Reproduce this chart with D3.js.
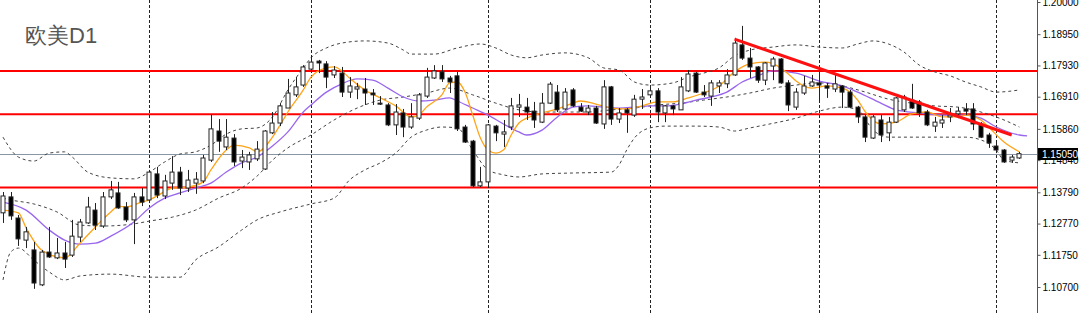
<!DOCTYPE html>
<html lang="zh">

<head>
    <meta charset="UTF-8">
    <script src="https://d3js.org/d3.v7.min.js"></script>
    <style>
        body {
            margin: 0;
            background: #fff;
        }

        svg text {
            font-family: "Liberation Sans", Arial, sans-serif;
        }

        .axis text {
            font-size: 10px;
            fill: #000;
        }

        .axis path,
        .axis line {
            stroke: #555;
        }
    </style>
    <title>欧美D1</title>
</head>

<body>
    <svg width="1080" height="313"></svg>
    <script>
        // daily candles
        const open = [1.1312, 1.1364, 1.1295, 1.1223, 1.1191, 1.1077, 1.1184, 1.1165, 1.1181, 1.1174,
            1.1233, 1.1279, 1.1321, 1.1269, 1.1364, 1.1377, 1.1331, 1.1289, 1.1364, 1.1354,
            1.1439, 1.1367, 1.1409, 1.1445, 1.1393, 1.1409, 1.1416, 1.1484, 1.1579, 1.1527,
            1.1556, 1.1481, 1.1478, 1.1488, 1.1455, 1.1573, 1.1605, 1.1654, 1.1697, 1.1729,
            1.1781, 1.1807, 1.1798, 1.1762, 1.1768, 1.1706, 1.1716, 1.1716, 1.1703, 1.1670,
            1.1664, 1.1599, 1.1638, 1.1592, 1.1621, 1.1693, 1.1752, 1.1772, 1.1752, 1.1759,
            1.1592, 1.1546, 1.1400, 1.1413, 1.1595, 1.1569, 1.1592, 1.1657, 1.1657, 1.1644,
            1.1608, 1.1670, 1.1706, 1.1651, 1.1713, 1.1657, 1.1641, 1.1654, 1.1602, 1.1723,
            1.1618, 1.1648, 1.1631, 1.1683, 1.1697, 1.1710, 1.1638, 1.1661, 1.1648, 1.1710,
            1.1768, 1.1706, 1.1693, 1.1726, 1.1733, 1.1762, 1.1860, 1.1817, 1.1788, 1.1745,
            1.1791, 1.1814, 1.1736, 1.1657, 1.1703, 1.1726, 1.1736, 1.1726, 1.1716, 1.1726,
            1.1706, 1.1657, 1.1625, 1.1556, 1.1615, 1.1573, 1.1608, 1.1648, 1.1680, 1.1674,
            1.1641, 1.1595, 1.1605, 1.1625, 1.1635, 1.1651, 1.1651, 1.1602, 1.1566, 1.1530,
            1.1517, 1.1484, 1.1491];
        const high = [1.1380, 1.1380, 1.1305, 1.1266, 1.1217, 1.1191, 1.1266, 1.1230, 1.1217, 1.1289,
            1.1292, 1.1364, 1.1344, 1.1380, 1.1416, 1.1413, 1.1347, 1.1377, 1.1393, 1.1452,
            1.1462, 1.1436, 1.1497, 1.1462, 1.1452, 1.1445, 1.1501, 1.1634, 1.1618, 1.1618,
            1.1569, 1.1517, 1.1511, 1.1546, 1.1582, 1.1641, 1.1670, 1.1749, 1.1755, 1.1794,
            1.1824, 1.1811, 1.1807, 1.1791, 1.1788, 1.1755, 1.1736, 1.1752, 1.1716, 1.1693,
            1.1670, 1.1667, 1.1651, 1.1670, 1.1703, 1.1785, 1.1794, 1.1794, 1.1759, 1.1772,
            1.1599, 1.1550, 1.1462, 1.1602, 1.1599, 1.1615, 1.1687, 1.1700, 1.1687, 1.1674,
            1.1703, 1.1739, 1.1729, 1.1719, 1.1719, 1.1670, 1.1664, 1.1661, 1.1745, 1.1726,
            1.1654, 1.1654, 1.1697, 1.1716, 1.1729, 1.1719, 1.1664, 1.1664, 1.1755, 1.1778,
            1.1772, 1.1729, 1.1745, 1.1745, 1.1781, 1.1883, 1.1922, 1.1850, 1.1791, 1.1804,
            1.1821, 1.1817, 1.1745, 1.1719, 1.1759, 1.1762, 1.1785, 1.1736, 1.1762, 1.1729,
            1.1713, 1.1661, 1.1631, 1.1631, 1.1631, 1.1625, 1.1690, 1.1697, 1.1733, 1.1680,
            1.1648, 1.1625, 1.1631, 1.1654, 1.1657, 1.1670, 1.1670, 1.1608, 1.1573, 1.1540,
            1.1520, 1.1501, 1.1511];
        const low = [1.1279, 1.1289, 1.1204, 1.1197, 1.1064, 1.1073, 1.1165, 1.1161, 1.1132, 1.1168,
            1.1217, 1.1276, 1.1256, 1.1263, 1.1357, 1.1325, 1.1282, 1.1210, 1.1334, 1.1347,
            1.1360, 1.1357, 1.1387, 1.1370, 1.1380, 1.1374, 1.1409, 1.1478, 1.1511, 1.1517,
            1.1465, 1.1458, 1.1452, 1.1481, 1.1452, 1.1569, 1.1595, 1.1654, 1.1690, 1.1723,
            1.1772, 1.1768, 1.1719, 1.1752, 1.1690, 1.1687, 1.1683, 1.1664, 1.1664, 1.1664,
            1.1595, 1.1566, 1.1559, 1.1586, 1.1615, 1.1687, 1.1749, 1.1739, 1.1703, 1.1579,
            1.1540, 1.1396, 1.1396, 1.1393, 1.1546, 1.1527, 1.1582, 1.1625, 1.1615, 1.1589,
            1.1605, 1.1667, 1.1641, 1.1648, 1.1657, 1.1641, 1.1631, 1.1602, 1.1586, 1.1599,
            1.1605, 1.1573, 1.1625, 1.1651, 1.1690, 1.1608, 1.1608, 1.1631, 1.1648, 1.1706,
            1.1703, 1.1690, 1.1661, 1.1703, 1.1719, 1.1759, 1.1811, 1.1752, 1.1736, 1.1729,
            1.1745, 1.1733, 1.1644, 1.1648, 1.1697, 1.1723, 1.1680, 1.1687, 1.1706, 1.1654,
            1.1654, 1.1605, 1.1543, 1.1553, 1.1543, 1.1546, 1.1605, 1.1641, 1.1651, 1.1625,
            1.1595, 1.1576, 1.1589, 1.1608, 1.1621, 1.1631, 1.1582, 1.1556, 1.1524, 1.1507,
            1.1475, 1.1475, 1.1488];
        const close = [1.1367, 1.1302, 1.1227, 1.1250, 1.1083, 1.1184, 1.1168, 1.1181, 1.1161, 1.1236,
            1.1282, 1.1331, 1.1272, 1.1364, 1.1387, 1.1328, 1.1289, 1.1364, 1.1347, 1.1445,
            1.1370, 1.1416, 1.1445, 1.1393, 1.1419, 1.1422, 1.1491, 1.1586, 1.1546, 1.1559,
            1.1478, 1.1494, 1.1501, 1.1520, 1.1579, 1.1605, 1.1661, 1.1703, 1.1723, 1.1788,
            1.1804, 1.1801, 1.1755, 1.1778, 1.1706, 1.1726, 1.1723, 1.1703, 1.1697, 1.1667,
            1.1599, 1.1641, 1.1592, 1.1625, 1.1697, 1.1755, 1.1775, 1.1749, 1.1739, 1.1586,
            1.1543, 1.1400, 1.1413, 1.1599, 1.1573, 1.1576, 1.1661, 1.1664, 1.1641, 1.1615,
            1.1670, 1.1732, 1.1648, 1.1706, 1.1661, 1.1644, 1.1654, 1.1605, 1.1723, 1.1618,
            1.1638, 1.1638, 1.1683, 1.1690, 1.1710, 1.1641, 1.1661, 1.1651, 1.1723, 1.1765,
            1.1706, 1.1697, 1.1736, 1.1736, 1.1762, 1.1866, 1.1817, 1.1788, 1.1745, 1.1801,
            1.1814, 1.1736, 1.1664, 1.1706, 1.1726, 1.1739, 1.1729, 1.1719, 1.1733, 1.1706,
            1.1657, 1.1625, 1.1559, 1.1625, 1.1566, 1.1608, 1.1687, 1.1690, 1.1654, 1.1638,
            1.1599, 1.1608, 1.1615, 1.1631, 1.1644, 1.1644, 1.1602, 1.1559, 1.1540, 1.1517,
            1.1478, 1.1494, 1.1505];

        // indicator lines as [bar index, price] read at points along each curve
        const bbUpper = [[0, 1.1559], [2, 1.1494], [4, 1.1481], [6, 1.1507], [8, 1.1511], [9, 1.1494], [11, 1.1445],
            [14, 1.1426], [17, 1.1423], [19, 1.1445], [21, 1.1478], [23, 1.1504], [25, 1.1511], [27, 1.1533],
            [29, 1.1569], [31, 1.1586], [33, 1.1589], [35, 1.1625], [37, 1.1713], [39, 1.1785], [40, 1.1818],
            [42, 1.1850], [44, 1.1866], [47, 1.1873], [50, 1.1866], [52, 1.1843], [53, 1.1830], [56, 1.1830],
            [59, 1.1850], [62, 1.1863], [64, 1.1850], [66, 1.1827], [68, 1.1818], [70, 1.1827], [73, 1.1834],
            [76, 1.1818], [78, 1.1785], [80, 1.1778], [82, 1.1739], [84, 1.1729], [87, 1.1736], [89, 1.1755],
            [91, 1.1768], [93, 1.1785], [95, 1.1824], [97, 1.1843], [100, 1.1853], [103, 1.1860], [106, 1.1853],
            [109, 1.1850], [111, 1.1863], [113, 1.1873], [115, 1.1863], [117, 1.1837], [119, 1.1794], [121, 1.1772],
            [123, 1.1759], [125, 1.1739], [127, 1.1723], [129, 1.1706], [132, 1.1713]];
        const bbMiddle = [[0, 1.1360], [1, 1.1354], [4, 1.1341], [7, 1.1315], [10, 1.1272], [13, 1.1269], [17, 1.1276],
            [19, 1.1285], [22, 1.1298], [25, 1.1321], [28, 1.1360], [31, 1.1393], [33, 1.1432], [35, 1.1484],
            [37, 1.1524], [40, 1.1566], [43, 1.1615], [46, 1.1654], [49, 1.1680], [52, 1.1690], [55, 1.1703],
            [58, 1.1719], [61, 1.1697], [64, 1.1670], [67, 1.1648], [70, 1.1641], [73, 1.1641], [76, 1.1641],
            [79, 1.1648], [82, 1.1654], [85, 1.1664], [88, 1.1670], [91, 1.1680], [94, 1.1690], [97, 1.1703],
            [100, 1.1719], [103, 1.1729], [106, 1.1736], [109, 1.1726], [112, 1.1706], [115, 1.1683], [118, 1.1670],
            [121, 1.1661], [124, 1.1657], [127, 1.1641], [130, 1.1615], [132, 1.1592]];
        const bbLower = [[0, 1.1093], [1, 1.1184], [2, 1.1197], [4, 1.1158], [6, 1.1119], [8, 1.1093], [10, 1.1106],
            [14, 1.1112], [19, 1.1102], [23, 1.1102], [25, 1.1158], [28, 1.1201], [31, 1.1256], [33, 1.1289],
            [36, 1.1315], [40, 1.1341], [43, 1.1360], [45, 1.1419], [47, 1.1452], [49, 1.1475], [51, 1.1507],
            [53, 1.1559], [55, 1.1582], [57, 1.1592], [59, 1.1589], [61, 1.1517], [63, 1.1452], [65, 1.1436],
            [67, 1.1429], [70, 1.1439], [74, 1.1442], [79, 1.1445], [80, 1.1468], [81, 1.1517], [82, 1.1556],
            [84, 1.1589], [86, 1.1595], [90, 1.1595], [93, 1.1592], [95, 1.1579], [97, 1.1589], [99, 1.1599],
            [103, 1.1621], [106, 1.1644], [109, 1.1657], [111, 1.1648], [113, 1.1582], [115, 1.1559], [120, 1.1559],
            [125, 1.1559], [127, 1.1550], [129, 1.1517], [130, 1.1484], [132, 1.1475]];
        const maFast = [[0, 1.1321], [2, 1.1312], [3, 1.1263], [5, 1.1191], [8, 1.1165], [10, 1.1213], [12, 1.1266],
            [14, 1.1315], [15, 1.1334], [16, 1.1331], [18, 1.1347], [19, 1.1354], [20, 1.1367], [22, 1.1393],
            [24, 1.1396], [26, 1.1413], [27, 1.1452], [29, 1.1517], [30, 1.1533], [32, 1.1524], [33, 1.1511],
            [35, 1.1559], [36, 1.1599], [37, 1.1641], [39, 1.1713], [40, 1.1755], [42, 1.1785], [43, 1.1788],
            [44, 1.1775], [45, 1.1752], [47, 1.1713], [49, 1.1687], [51, 1.1661], [53, 1.1625], [54, 1.1631],
            [55, 1.1657], [57, 1.1697], [58, 1.1736], [59, 1.1739], [60, 1.1706], [61, 1.1631], [62, 1.1556],
            [63, 1.1517], [64, 1.1507], [65, 1.1517], [66, 1.1566], [67, 1.1605], [68, 1.1621], [70, 1.1638],
            [72, 1.1651], [74, 1.1670], [75, 1.1677], [77, 1.1667], [79, 1.1654], [81, 1.1651], [83, 1.1661],
            [85, 1.1674], [87, 1.1674], [89, 1.1687], [91, 1.1703], [93, 1.1726], [95, 1.1772], [97, 1.1798],
            [99, 1.1804], [101, 1.1785], [102, 1.1765], [103, 1.1742], [105, 1.1719], [107, 1.1726], [109, 1.1719],
            [111, 1.1680], [112, 1.1641], [114, 1.1602], [116, 1.1608], [118, 1.1635], [120, 1.1641], [122, 1.1625],
            [124, 1.1625], [125, 1.1631], [127, 1.1615], [128, 1.1592], [130, 1.1543], [132, 1.1511]];
        const maSlow = [[0, 1.1347], [3, 1.1321], [6, 1.1256], [8, 1.1223], [10, 1.1210], [12, 1.1213], [14, 1.1236],
            [17, 1.1282], [19, 1.1328], [21, 1.1360], [23, 1.1377], [25, 1.1393], [27, 1.1409], [29, 1.1445],
            [31, 1.1475], [33, 1.1494], [35, 1.1530], [37, 1.1576], [39, 1.1641], [40, 1.1664], [42, 1.1706],
            [44, 1.1733], [46, 1.1749], [48, 1.1745], [50, 1.1719], [52, 1.1690], [54, 1.1677], [56, 1.1680],
            [58, 1.1687], [59, 1.1677], [61, 1.1654], [63, 1.1631], [65, 1.1602], [67, 1.1576], [68, 1.1566],
            [70, 1.1582], [72, 1.1625], [74, 1.1657], [76, 1.1661], [78, 1.1657], [80, 1.1654], [82, 1.1657],
            [84, 1.1661], [86, 1.1661], [88, 1.1667], [90, 1.1680], [92, 1.1690], [94, 1.1706], [96, 1.1739],
            [98, 1.1759], [100, 1.1775], [103, 1.1768], [106, 1.1742], [109, 1.1726], [111, 1.1706], [114, 1.1670],
            [116, 1.1648], [119, 1.1638], [122, 1.1631], [125, 1.1631], [127, 1.1621], [129, 1.1592], [132, 1.1566],
            [133, 1.1563]];

        // drawn objects: support / resistance levels, the falling trend line, month separators
        const levels = [1.1775, 1.1634, 1.1395];
        const trendLine = [[95, 1.1879], [131, 1.1566]];
        const separators = [19, 40, 63, 84, 106, 129];
        const priceTicks = [1.2, 1.1895, 1.1793, 1.1691, 1.1586, 1.1484, 1.1379, 1.1277, 1.1175, 1.107];
        const lastPrice = 1.1505;
        const title = '欧美D1';

        const svg = d3.select('svg');
        const width = +svg.attr('width'), height = +svg.attr('height');
        const plotRight = 1037;

        const x = d3.scaleLinear().domain([0, 132]).range([3, 1019.4]);
        const y = d3.scaleLinear().domain([1.107, 1.2]).range([287, 2]);

        svg.append('rect').attr('width', width).attr('height', height).attr('fill', '#fff');

        const plot = svg.append('g');

        // vertical dotted separators
        plot.selectAll('line.sep')
            .data(separators)
            .enter()
            .append('line')
            .attr('x1', d => Math.round(x(d)) + 0.5)
            .attr('x2', d => Math.round(x(d)) + 0.5)
            .attr('y1', 0)
            .attr('y2', height)
            .attr('stroke', '#222')
            .attr('stroke-dasharray', '3 2');

        // current price line
        plot.append('line')
            .attr('x1', 0).attr('x2', plotRight)
            .attr('y1', Math.round(y(lastPrice)) + 0.5)
            .attr('y2', Math.round(y(lastPrice)) + 0.5)
            .attr('stroke', '#8a96a3');

        // horizontal levels
        plot.selectAll('line.level')
            .data(levels)
            .enter()
            .append('line')
            .attr('x1', 0).attr('x2', plotRight)
            .attr('y1', d => y(d)).attr('y2', d => y(d))
            .attr('stroke', '#ff0000')
            .attr('stroke-width', 2);

        const line = d3.line()
            .x(d => x(d[0]))
            .y(d => y(d[1]))
            .curve(d3.curveMonotoneX);

        // bollinger bands
        [bbUpper, bbMiddle, bbLower].forEach(band => {
            plot.append('path')
                .attr('d', line(band))
                .attr('fill', 'none')
                .attr('stroke', '#444')
                .attr('stroke-dasharray', '3 3');
        });

        // moving averages
        plot.append('path')
            .attr('d', line(maSlow))
            .attr('fill', 'none')
            .attr('stroke', '#9966ee')
            .attr('stroke-width', 1.3);

        plot.append('path')
            .attr('d', line(maFast))
            .attr('fill', 'none')
            .attr('stroke', '#ffa318')
            .attr('stroke-width', 1.3);

        // candles
        const bars = d3.range(open.length);
        const bodyW = 5;

        plot.selectAll('line.wick')
            .data(bars)
            .enter()
            .append('line')
            .attr('x1', i => Math.round(x(i)) + 0.5)
            .attr('x2', i => Math.round(x(i)) + 0.5)
            .attr('y1', i => y(high[i]))
            .attr('y2', i => y(low[i]))
            .attr('stroke', '#222');

        plot.selectAll('rect.body')
            .data(bars)
            .enter()
            .append('rect')
            .attr('x', i => Math.round(x(i)) - bodyW / 2 + 0.5)
            .attr('y', i => y(Math.max(open[i], close[i])))
            .attr('width', bodyW - 1)
            .attr('height', i => Math.max(1, Math.abs(y(open[i]) - y(close[i]))))
            .attr('fill', i => close[i] >= open[i] ? '#fff' : '#000')
            .attr('stroke', '#222');

        // trend line
        plot.append('path')
            .attr('d', d3.line().x(d => x(d[0])).y(d => y(d[1]))(trendLine))
            .attr('stroke', '#ff1010')
            .attr('stroke-width', 3)
            .attr('fill', 'none');

        // title
        svg.append('text')
            .attr('x', 25)
            .attr('y', 43)
            .attr('font-family', '"Noto Sans CJK SC", "Noto Sans", sans-serif')
            .attr('font-size', 22)
            .attr('fill', '#555')
            .text(title);

        // price axis on the right
        const axis = svg.append('g')
            .attr('class', 'axis')
            .attr('transform', `translate(${plotRight + 0.5}, 0)`)
            .call(d3.axisRight(y)
                .tickValues(priceTicks)
                .tickFormat(d3.format('.5f'))
                .tickSize(3)
                .tickSizeOuter(0));
        axis.select('.domain').attr('d', `M0,0V${height}`);
        axis.selectAll('text').attr('x', 5);

        // current price tag
        const tagY = Math.round(y(lastPrice));
        svg.append('rect')
            .attr('x', plotRight + 1)
            .attr('y', tagY - 6)
            .attr('width', 40)
            .attr('height', 12)
            .attr('fill', '#000');
        svg.append('text')
            .attr('x', plotRight + 5)
            .attr('y', tagY + 4)
            .attr('font-size', 10)
            .attr('fill', '#fff')
            .text(d3.format('.5f')(lastPrice));
    </script>
</body>

</html>
